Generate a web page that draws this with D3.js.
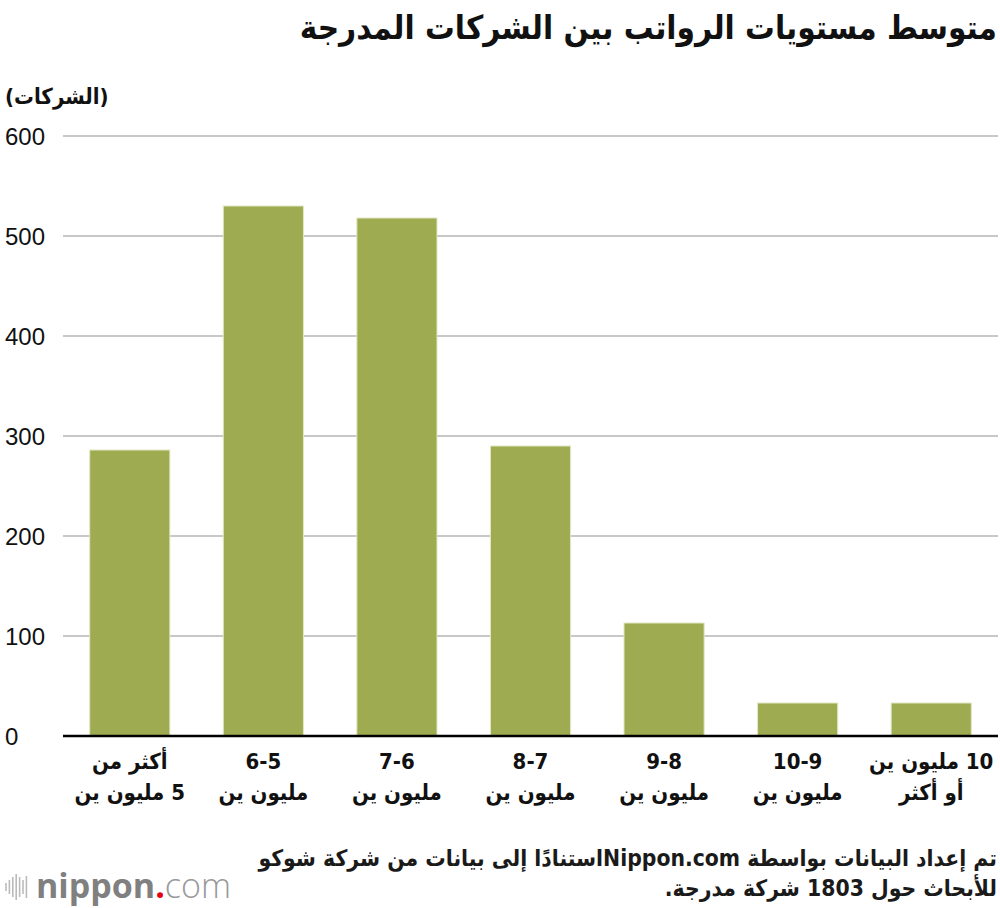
<!DOCTYPE html>
<html><head><meta charset="utf-8">
<script src="https://cdn.jsdelivr.net/npm/d3@7"></script>
<style>
body{margin:0;background:#fff;}
</style></head>
<body><svg id="c" width="1000" height="908"></svg>
<script>
const title = "متوسط مستويات الرواتب بين الشركات المدرجة";
const unitLabel = "(الشركات)";
const categoriesLine1 = ["أكثر من", "6-5", "7-6", "8-7", "9-8", "10-9", "10 مليون ين"];
const categoriesLine2 = ["5 مليون ين", "مليون ين", "مليون ين", "مليون ين", "مليون ين", "مليون ين", "أو أكثر"];
const values = [286, 530, 518, 290, 113, 33, 33];
const yTicks = [0, 100, 200, 300, 400, 500, 600];
const sourceLines = ["تم إعداد البيانات بواسطة Nippon.comاستنادًا إلى بيانات من شركة شوكو", "للأبحاث حول 1803 شركة مدرجة."];

const AR = "'DejaVu Sans Condensed','DejaVu Sans',sans-serif";

const svg = d3.select("#c");
const idx = d3.range(values.length);
const x = d3.scaleBand().domain(idx).range([63, 998]).paddingInner(0.4).paddingOuter(0.2);
const y = d3.scaleLinear().domain([0, 600]).range([736, 136]);

// right-aligned RTL text helper: measure and place so right edge sits at xr
function rightText(sel, xr) {
  sel.attr("text-anchor", "start").attr("x", 0).attr("direction", "rtl").style("direction", "rtl");
  sel.each(function () {
    const bb = this.getBBox();
    d3.select(this).attr("x", xr - (bb.x + bb.width));
  });
}

const t = svg.append("text").attr("y", 39)
  .attr("font-family", AR).attr("font-weight", "bold").attr("font-size", 33).attr("fill", "#111")
  .text(title);
rightText(t, 997);

const u = svg.append("text").attr("y", 104).attr("font-family", AR).attr("font-weight", "bold")
  .attr("font-size", 22).attr("fill", "#111").style("direction", "rtl").attr("direction", "rtl").text(unitLabel);
{ const bb = u.node().getBBox(); u.attr("x", 5 - bb.x); }

// gridlines
svg.append("g").selectAll("line").data(yTicks.filter(d => d > 0)).join("line")
  .attr("x1", 63).attr("x2", 998).attr("y1", d => y(d)).attr("y2", d => y(d))
  .attr("stroke", "#c8c8c8").attr("stroke-width", 2);

svg.append("g").selectAll("text").data(yTicks).join("text")
  .attr("x", 5).attr("y", d => y(d) + 9).attr("font-family", "'Liberation Sans',Arial,sans-serif")
  .attr("font-size", 24).attr("fill", "#111").text(d => d);

// bars
svg.append("g").selectAll("rect").data(idx).join("rect")
  .attr("x", i => x(i)).attr("width", x.bandwidth())
  .attr("y", i => y(values[i])).attr("height", i => y(0) - y(values[i]))
  .attr("fill", "#9eab51").attr("stroke", "#e2e8c4").attr("stroke-width", 1);

svg.append("line").attr("x1", 63).attr("x2", 998).attr("y1", y(0)).attr("y2", y(0))
  .attr("stroke", "#000").attr("stroke-width", 2.5);

// x labels
const xlG = svg.append("g").attr("font-family", AR).attr("font-weight", "bold")
  .attr("font-size", 22).attr("fill", "#111");
[categoriesLine1, categoriesLine2].forEach((arr, k) => {
  xlG.selectAll("text.l" + k).data(idx).join("text").attr("class", "l" + k)
    .attr("text-anchor", "middle").attr("direction", "rtl").style("direction", "rtl")
    .attr("x", i => x(i) + x.bandwidth() / 2).attr("y", 769 + k * 31)
    .text(i => arr[i]);
});

// source
const src = svg.append("g").selectAll("text").data(sourceLines).join("text")
  .attr("y", (d, i) => 866 + i * 30)
  .attr("font-family", AR).attr("font-weight", "bold").attr("font-size", 22.7).attr("fill", "#1a1a1a").text(d => d);
rightText(src, 997);

// logo
const logo = svg.append("g");
const waveH = [8, 14, 20, 26, 20, 14, 22];
logo.selectAll("line").data(waveH).join("line")
  .attr("x1", (d, i) => 6 + i * 3.4).attr("x2", (d, i) => 6 + i * 3.4)
  .attr("y1", d => 887 - d / 2).attr("y2", d => 887 + d / 2)
  .attr("stroke", "#bbb").attr("stroke-width", 1.6);
const lt = logo.append("text").attr("x", 36).attr("y", 898).attr("font-family", "'Open Sans',sans-serif").attr("font-size", 34);
lt.append("tspan").attr("font-weight", "bold").attr("fill", "#808080").text("nippon");
lt.append("tspan").attr("fill", "#e60012").attr("font-weight", "bold").text(".");
lt.append("tspan").attr("fill", "#999").attr("font-weight", "300").text("com");
</script></body></html>
